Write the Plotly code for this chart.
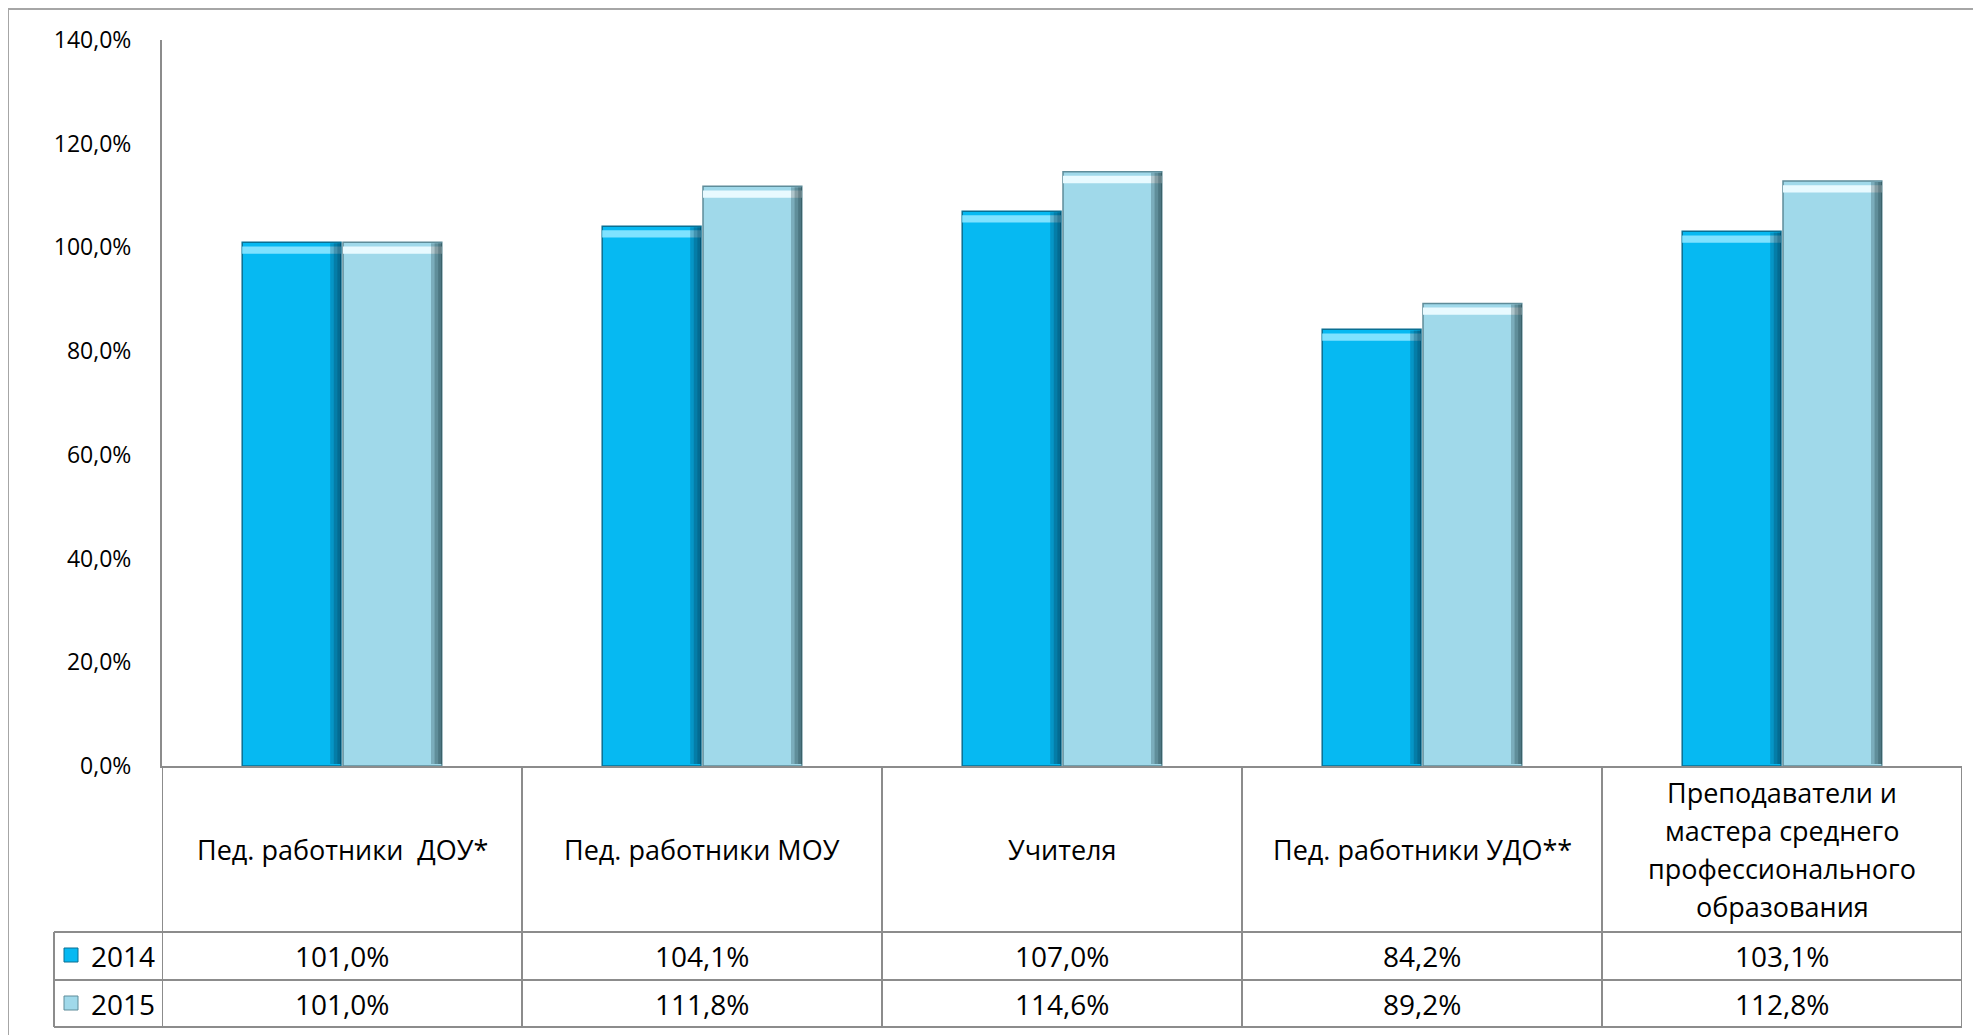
import plotly.graph_objects as go

categories = ["Пед. работники \u00a0ДОУ*", "Пед. работники МОУ", "Учителя",
              "Пед. работники УДО**",
              "Преподаватели и<br>мастера среднего<br>профессионального<br>образования"]
series_names = ["2014", "2015"]
values_2014 = [101.0, 104.1, 107.0, 84.2, 103.1]
values_2015 = [101.0, 111.8, 114.6, 89.2, 112.8]
y_ticks = [0, 20, 40, 60, 80, 100, 120, 140]

# page body has an 8px margin; figure is sized to fit the window
OFF = 8
W, H = 1981 - OFF, 1035 - OFF
L, R, T, B = 154, 19, 32, 269
PW, PH = W - L - R, H - T - B
FONT = "Open Sans, Noto Sans, sans-serif"
BARGAP, GROUPGAP = 0.44, 0.02

def px(xs):  # screen x -> paper
    return (xs - OFF - L) / PW

def py(ys):  # screen y -> paper
    return (H - B - (ys - OFF)) / PH

colors = ["#06B9F2", "#A0D9EA"]
edge = ["#0A6F92", "#5E8C99"]
hilite = ["#7FE2FF", "#E8FAFF"]
shade = ["rgba(4,60,90,0.28)", "rgba(30,60,70,0.28)"]
xs = list(range(len(categories)))

fmt = lambda v: f"{v:.1f}".replace(".", ",") + "%"

slot = (1 - BARGAP) / 2
bw = slot * (1 - GROUPGAP)
fig = go.Figure()
for i, (name, vals) in enumerate(zip(series_names, [values_2014, values_2015])):
    og = str(i)
    fig.add_trace(go.Bar(x=xs, y=vals, name=name, offsetgroup=og,
                         marker=dict(color=colors[i], line=dict(color=edge[i], width=1.5)),
                         hovertemplate="%{y:.1f}%<extra>" + name + "</extra>"))
    # top bevel highlight
    fig.add_trace(go.Bar(x=xs, y=[1.4] * len(vals), base=[v - 2.2 for v in vals],
                         offsetgroup=og, showlegend=False, hoverinfo="skip",
                         marker=dict(color=hilite[i], line=dict(width=0))))
    # right-side bevel shading (layered translucent strips -> gradient)
    left = -slot + i * slot + (slot - bw) / 2
    for sw in [0.03, 0.02, 0.01]:
        fig.add_trace(go.Bar(x=xs, y=[v - 0.6 for v in vals], base=[0.4] * len(vals),
                             offsetgroup=og, width=sw, offset=left + bw - sw,
                             showlegend=False, hoverinfo="skip",
                             marker=dict(color=shade[i], line=dict(width=0))))

shapes = []
line = dict(color="#8C8C8C", width=2)
# outer border (paper edge)
shapes.append(dict(type="rect", xref="paper", yref="paper", x0=px(8), x1=px(2100),
                   y0=py(9), y1=py(1200), line=dict(color="#A6A6A6", width=2)))
# table horizontal lines
for yy in [932, 980, 1027]:
    shapes.append(dict(type="line", xref="paper", yref="paper", x0=px(54), x1=1,
                       y0=py(yy), y1=py(yy), line=line))
shapes.append(dict(type="line", xref="paper", yref="paper", x0=px(54), x1=px(54),
                   y0=py(932), y1=py(1027), line=line))
# table vertical lines at category boundaries
for k in range(len(categories) + 1):
    shapes.append(dict(type="line", xref="x", yref="paper", x0=k - 0.5, x1=k - 0.5,
                       y0=0, y1=py(1027), line=line))
# legend icons
for i, yc in enumerate([955, 1003]):
    shapes.append(dict(type="rect", xref="paper", yref="paper", x0=px(64), x1=px(78),
                       y0=py(yc - 7), y1=py(yc + 7), fillcolor=colors[i],
                       line=dict(color=edge[i], width=1)))

ann = []
row_c = (766 + 932) / 2
for k, c in enumerate(categories):
    lines = c.split("<br>")
    n = len(lines)
    for j, ln in enumerate(lines):
        yc = row_c + (j - (n - 1) / 2) * 38
        ann.append(dict(x=k, xref="x", y=py(yc), yref="paper", text=ln, showarrow=False,
                        xanchor="center", yanchor="middle",
                        font=dict(size=27, color="#000", family=FONT)))
for i, (name, vals, yc) in enumerate(zip(series_names, [values_2014, values_2015], [956, 1004])):
    ann.append(dict(x=px(89), xref="paper", y=py(yc), yref="paper", text=name,
                    showarrow=False, xanchor="left", yanchor="middle",
                    font=dict(size=28, color="#000", family=FONT)))
    for k, v in enumerate(vals):
        ann.append(dict(x=k, xref="x", y=py(yc), yref="paper", text=fmt(v),
                        showarrow=False, xanchor="center", yanchor="middle",
                        font=dict(size=28, color="#000", family=FONT)))

fig.update_layout(
    width=W, height=H, margin=dict(l=L, r=R, t=T, b=B, autoexpand=False),
    paper_bgcolor="white", plot_bgcolor="white",
    barmode="group", bargap=BARGAP, bargroupgap=GROUPGAP, showlegend=False,
    shapes=shapes, annotations=ann,
    xaxis=dict(range=[-0.5, len(categories) - 0.5], showticklabels=False, ticks="",
               showline=True, linecolor="#8C8C8C", linewidth=2, showgrid=False,
               zeroline=False, fixedrange=True),
    yaxis=dict(range=[0, 140], tickvals=y_ticks, ticktext=[fmt(t) for t in y_ticks],
               showline=True, linecolor="#8C8C8C", linewidth=2, showgrid=False,
               zeroline=False, ticks="", ticklabelstandoff=24,
               tickfont=dict(size=23, color="#000", family=FONT)),
)
fig.write_html("out.html")
